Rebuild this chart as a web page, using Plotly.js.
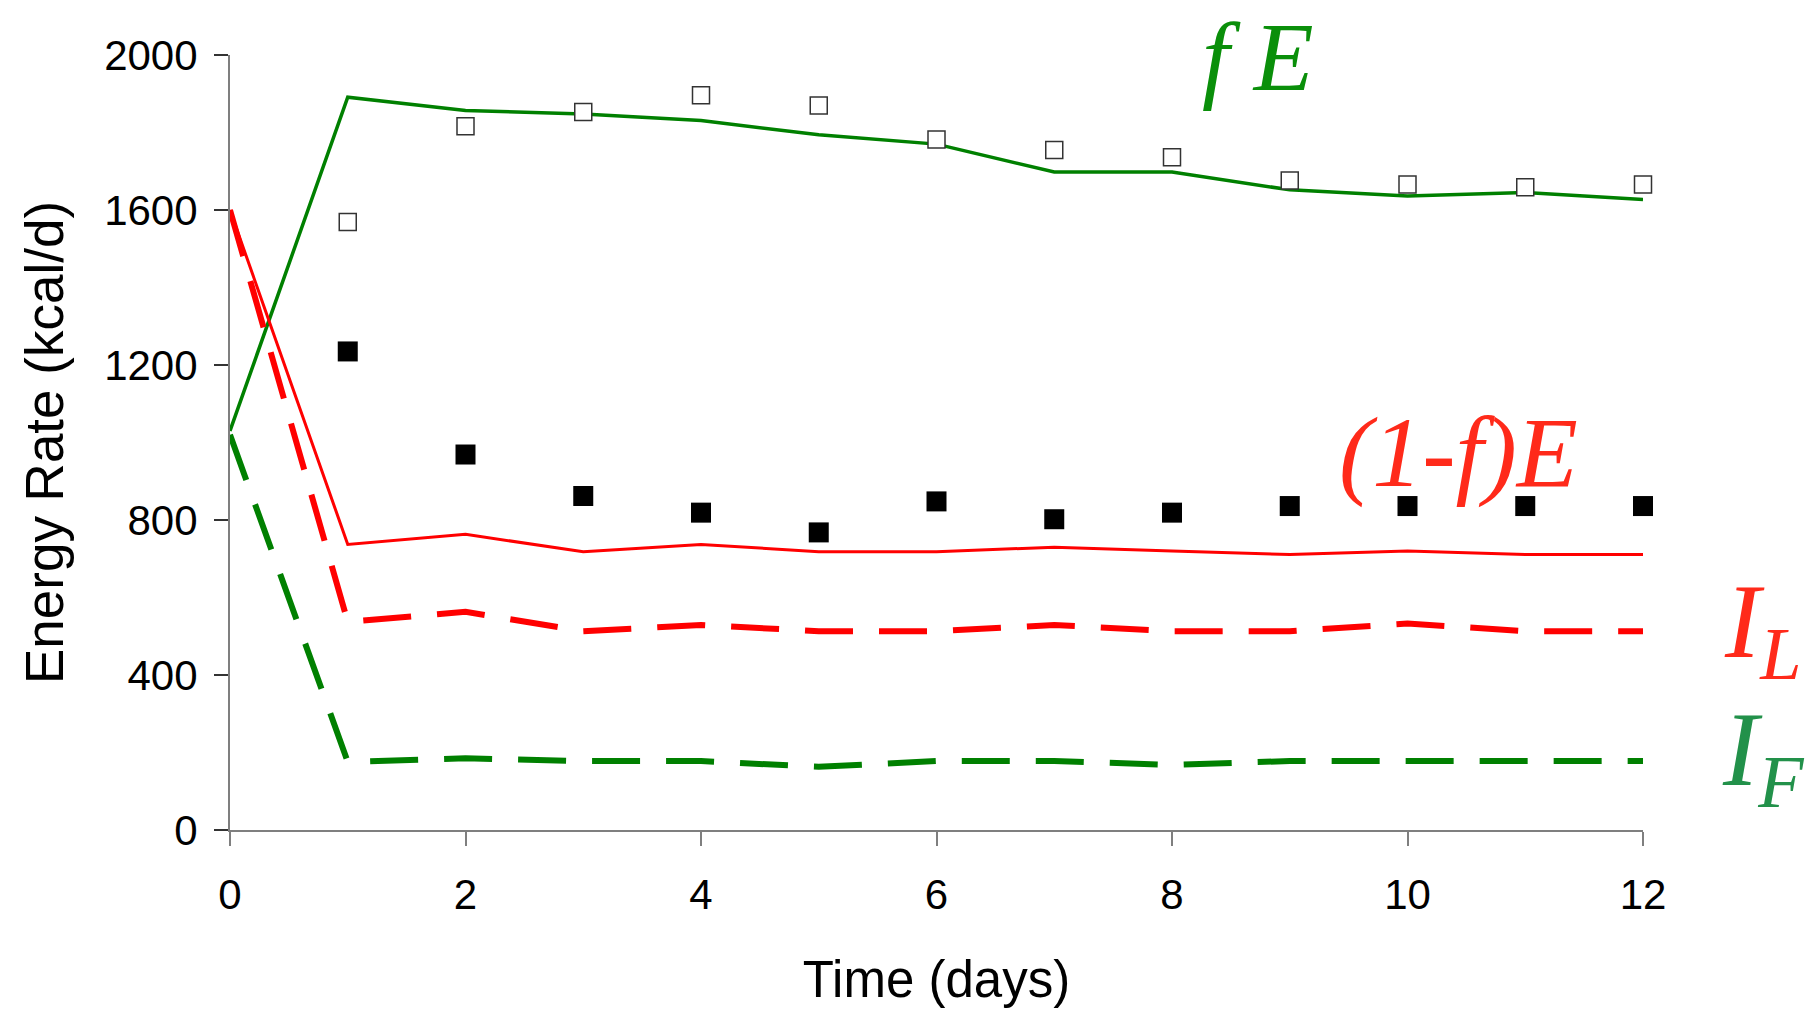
<!DOCTYPE html>
<html>
<head>
<meta charset="utf-8">
<script src="https://cdn.plot.ly/plotly-3.0.1.min.js"></script>
<style>html,body{margin:0;padding:0;background:#fff;}#chart{width:1818px;height:1015px;}</style>
</head>
<body>
<div id="chart"></div>
<script>
// Time in days
const days = [0, 1, 2, 3, 4, 5, 6, 7, 8, 9, 10, 11, 12];
const dataDays = [1, 2, 3, 4, 5, 6, 7, 8, 9, 10, 11, 12];

// Model curves (kcal/d)
const fE_model        = [1030, 1891, 1857, 1848, 1831, 1794, 1770, 1698, 1698, 1652, 1636, 1645, 1627];
const oneMinusF_model = [1600, 737, 763, 718, 737, 718, 718, 730, 720, 711, 720, 711, 711];
const IL_model        = [1600, 537, 563, 513, 529, 513, 513, 529, 513, 513, 533, 513, 513];
const IF_model        = [1020, 176, 185, 178, 178, 163, 178, 178, 168, 178, 178, 178, 178];

// Measured data (kcal/d)
const fE_data        = [1569, 1816, 1853, 1896, 1870, 1782, 1755, 1736, 1676, 1666, 1659, 1666];
const oneMinusF_data = [1235, 969, 862, 819, 768, 848, 802, 819, 836, 836, 836, 836];

const xTicks = [0, 2, 4, 6, 8, 10, 12];
const yTicks = [0, 400, 800, 1200, 1600, 2000];

const traces = [
  {x: days, y: fE_model, mode: 'lines', line: {color: '#008000', width: 3.5}, cliponaxis: false},
  {x: days, y: oneMinusF_model, mode: 'lines', line: {color: '#ff0000', width: 3}, cliponaxis: false},
  {x: days, y: IL_model, mode: 'lines', line: {color: '#ff0000', width: 6, dash: '48px,26px'}, cliponaxis: false},
  {x: days, y: IF_model, mode: 'lines', line: {color: '#008000', width: 6, dash: '48px,26px'}, cliponaxis: false},
  {x: dataDays, y: fE_data, mode: 'markers', marker: {symbol: 'square', size: 17, color: '#ffffff', line: {color: '#333333', width: 1.5}}, cliponaxis: false},
  {x: dataDays, y: oneMinusF_data, mode: 'markers', marker: {symbol: 'square', size: 20, color: '#000000', line: {width: 0}}, cliponaxis: false}
];

const serif = 'Liberation Serif, Times New Roman, serif';
const layout = {
  width: 1818, height: 1015,
  margin: {l: 230, r: 175, t: 55, b: 185},
  paper_bgcolor: '#ffffff', plot_bgcolor: '#ffffff',
  showlegend: false,
  font: {family: 'Liberation Sans, Arial, sans-serif', color: '#000'},
  xaxis: {
    range: [0, 12], tickvals: xTicks, ticktext: xTicks.map(String),
    showgrid: false, zeroline: false, showline: true, linecolor: '#7f7f7f', linewidth: 2,
    ticks: 'outside', ticklen: 14, tickwidth: 2, tickcolor: '#7f7f7f',
    tickfont: {size: 42, color: '#000'}, ticklabelstandoff: 13,
    title: {text: 'Time (days)', font: {size: 51, color: '#000'}, standoff: 44}
  },
  yaxis: {
    range: [0, 2000], tickvals: yTicks, ticktext: yTicks.map(String),
    showgrid: false, zeroline: false, showline: true, linecolor: '#7f7f7f', linewidth: 2,
    ticks: 'outside', ticklen: 14, tickwidth: 2, tickcolor: '#333333',
    tickfont: {size: 42, color: '#000'}, ticklabelstandoff: 8,
    title: {text: 'Energy Rate (kcal/d)', font: {size: 53, color: '#000'}, standoff: 24}
  },
  annotations: [
    {x: 0.7275, y: 0.997, xref: 'paper', yref: 'paper', text: 'f E', showarrow: false, xanchor: 'center', yanchor: 'middle',
     font: {family: serif, size: 98, color: '#0a8f0a', style: 'italic'}},
    {x: 10.43, y: 975, xref: 'x', yref: 'y', text: '(1-f)E', showarrow: false, xanchor: 'center', yanchor: 'middle',
     font: {family: serif, size: 100, color: '#ff2a1a', style: 'italic'}},
    {x: 1.085, y: 0.259, xref: 'paper', yref: 'paper', text: 'I<sub>L</sub>', showarrow: false, xanchor: 'center', yanchor: 'middle',
     font: {family: serif, size: 106, color: '#ff2a1a', style: 'italic'}},
    {x: 1.085, y: 0.094, xref: 'paper', yref: 'paper', text: 'I<sub>F</sub>', showarrow: false, xanchor: 'center', yanchor: 'middle',
     font: {family: serif, size: 106, color: '#22914a', style: 'italic'}}
  ]
};

Plotly.newPlot('chart', traces, layout, {displayModeBar: false, staticPlot: true});
</script>
</body>
</html>
